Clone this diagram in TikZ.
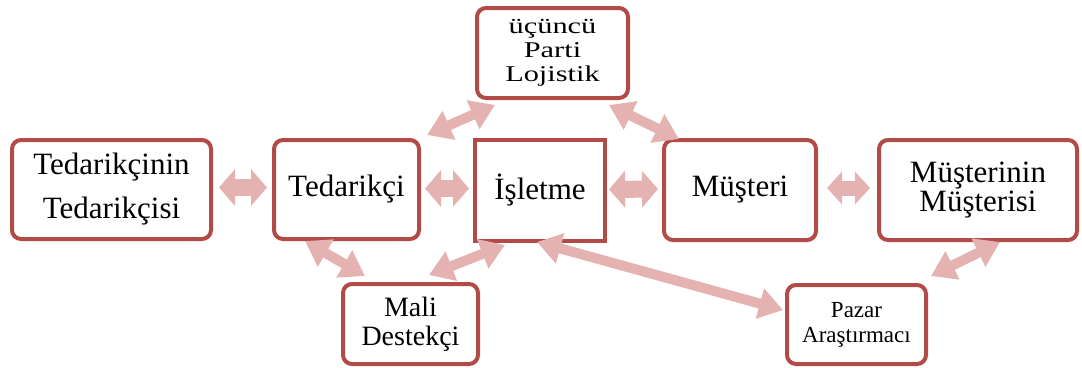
\documentclass[tikz,border=0pt]{standalone}
\usepackage{graphicx}
\usepackage{fontspec}
\setmainfont{Liberation Serif}
\usetikzlibrary{arrows.meta}
\definecolor{boxred}{HTML}{B24A48}
\definecolor{flowpink}{HTML}{E3B2B1}

% one line of the wide-set label in the top box
\newcommand{\widetext}[1]{\scalebox{1.35}[1]{#1}}

\begin{document}
\begin{tikzpicture}[x=1pt,y=-1pt,
  box/.style={draw=boxred, line width=4pt, fill=white, rounded corners=9pt,
              inner sep=0pt, align=center},
  sqbox/.style={box, rounded corners=0pt},
  blockarrow/.style={draw=flowpink, line width=17pt,
              {Triangle[width=36pt,length=16pt]}-{Triangle[width=36pt,length=16pt]}},
  slimarrow/.style={draw=flowpink, line width=10pt,
              {Triangle[width=30pt,length=24pt]}-{Triangle[width=30pt,length=24pt]}},
]
\useasboundingbox (0,0) rectangle (1082,367);

% partners in the chain
\node[box, minimum width=199pt, minimum height=99pt,
      font=\fontsize{31}{44}\selectfont] (tt) at (111.5,189.5)
      {Tedarikçinin\\Tedarikçisi};
\node[box, minimum width=145pt, minimum height=99pt,
      font=\fontsize{31}{36}\selectfont] (ted) at (346.5,189.5) {Tedarikçi};
\node[sqbox, minimum width=130pt, minimum height=101pt,
      font=\fontsize{31}{36}\selectfont] (isl) at (540,190.5) {İşletme};
\node[box, minimum width=152pt, minimum height=100pt,
      font=\fontsize{31}{36}\selectfont] (mus) at (740,190) {Müşteri};
\node[box, minimum width=198pt, minimum height=100pt,
      font=\fontsize{31}{26}\selectfont] (mm) at (978,190)
      {Müşterinin\\Müşterisi};
\node[box, minimum width=151pt, minimum height=90pt,
      font=\fontsize{22.5}{24}\selectfont] (tpl) at (552.5,53)
      {\widetext{üçüncü}\\\widetext{Parti}\\\widetext{Lojistik}};
\node[box, minimum width=135pt, minimum height=80pt,
      font=\fontsize{28}{29}\selectfont] (mali) at (410.5,324)
      {Mali\\Destekçi};
\node[box, minimum width=139pt, minimum height=79pt,
      font=\fontsize{23}{25}\selectfont] (pazar) at (856.5,324.5)
      {Pazar\\Araştırmacı};

% two-way flows along the chain
\draw[blockarrow] ([shift={(6,-2)}]tt.east) -- ([shift={(-5,-2)}]ted.west);
\draw[blockarrow] ([shift={(4,-1)}]ted.east) -- ([shift={(-4,-2)}]isl.west);
\draw[blockarrow] ([shift={(2,-1)}]isl.east) -- ([shift={(-4,-1)}]mus.west);
\draw[blockarrow, line width=15pt,
      {Triangle[width=32pt,length=15pt]}-{Triangle[width=32pt,length=15pt]}]
      ([shift={(9,-2)}]mus.east) -- ([shift={(-7,-2)}]mm.west);

% two-way flows to the supporting parties
\draw[slimarrow] ([shift={(20,5)}]tpl.south west) -- ([shift={(6,-3)}]ted.north east);
\draw[slimarrow] ([shift={(-21,5)}]tpl.south east) -- ([shift={(17,1)}]mus.north west);
\draw[slimarrow] ([shift={(33,0)}]ted.south west) -- ([shift={(24,-6)}]mali.north west);
\draw[slimarrow] ([shift={(-51,-7)}]mali.north east) -- ([shift={(32,2)}]isl.south west);
\draw[slimarrow] ([shift={(-70,-1)}]isl.south east) -- ([shift={(-2,-14.5)}]pazar.west);
\draw[slimarrow] ([shift={(22,0)}]mm.south) -- ([shift={(3,-7)}]pazar.north east);
\end{tikzpicture}
\end{document}
